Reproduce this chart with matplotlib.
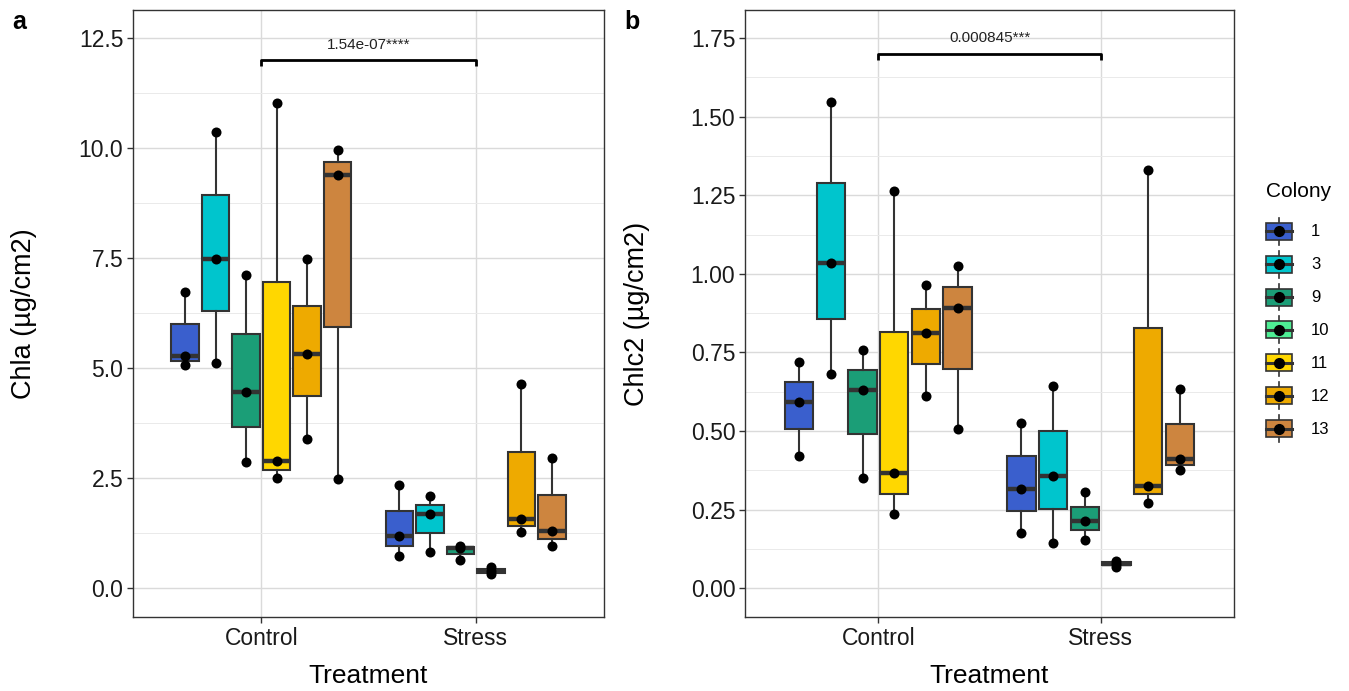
import numpy as np
import matplotlib
matplotlib.use("Agg")
import matplotlib.pyplot as plt
from matplotlib.patches import Rectangle
from matplotlib.lines import Line2D
from matplotlib.legend_handler import HandlerBase
from matplotlib.ticker import MultipleLocator, FormatStrFormatter

plt.rcParams['font.family'] = ['Liberation Sans', 'DejaVu Sans']

# --- data ---
treatments = ["Control", "Stress"]
colonies = ["1", "3", "9", "10", "11", "12", "13"]
colony_colors = ["#3A5FCD", "#00C5CD", "#1B9E77", "#4EEE94", "#FFD700", "#EEAA00", "#CD853F"]

control_colonies = ["1", "3", "9", "11", "12", "13"]
stress_colonies = ["1", "3", "9", "10", "12", "13"]

chla_control = [[6.72, 5.27, 5.07], [10.37, 7.48, 5.12], [7.11, 4.45, 2.87],
                [11.03, 2.89, 2.49], [7.49, 5.33, 3.38], [9.95, 9.40, 2.48]]
chla_stress = [[2.33, 1.18, 0.73], [2.08, 1.69, 0.82], [0.96, 0.90, 0.63],
               [0.47, 0.39, 0.31], [4.64, 1.56, 1.27], [2.95, 1.29, 0.95]]
chlc2_control = [[0.720, 0.593, 0.420], [1.547, 1.033, 0.683], [0.757, 0.632, 0.352],
                 [1.263, 0.368, 0.235], [0.964, 0.813, 0.611], [1.025, 0.890, 0.507]]
chlc2_stress = [[0.525, 0.315, 0.175], [0.643, 0.357, 0.145], [0.306, 0.214, 0.155],
                [0.088, 0.078, 0.068], [1.330, 0.326, 0.271], [0.634, 0.410, 0.375]]

p_labels = ["1.54e-07****", "0.000845***"]
bracket_heights = [12.0, 1.70]

EDGE = "#333333"
SLOT = 0.1425


def draw_panel(ax, groups, ylabel, ylim, step, fmt, bracket_y, drop, p_label, label_x):
    for gi, (cols, vals) in enumerate(groups):
        offsets = (np.arange(len(cols)) - (len(cols) - 1) / 2) * SLOT
        for col, v, off in zip(cols, vals, offsets):
            pos = gi + 1 + off
            color = colony_colors[colonies.index(col)]
            ax.boxplot([v], positions=[pos], widths=SLOT * 0.9, patch_artist=True,
                       showcaps=False, showfliers=False, whis=1.5, manage_ticks=False,
                       boxprops=dict(facecolor=color, edgecolor=EDGE, linewidth=1.5),
                       medianprops=dict(color=EDGE, linewidth=3.2, solid_capstyle="butt"),
                       whiskerprops=dict(color=EDGE, linewidth=1.5), zorder=2)
            ax.scatter([pos] * len(v), v, s=52, color="black", zorder=3, linewidths=0)

    # significance bracket
    ax.plot([1, 1, 2, 2], [bracket_y - drop, bracket_y, bracket_y, bracket_y - drop],
            color="black", lw=2, solid_capstyle="butt", zorder=4)
    ax.text(1.5, bracket_y + drop * 1.4, p_label, ha="center", va="bottom", fontsize=11,
            color="#222222")

    ax.set_xlim(0.4, 2.6)
    ax.set_ylim(*ylim)
    ax.set_xticks([1, 2])
    ax.set_xticklabels(treatments)
    ax.yaxis.set_major_locator(MultipleLocator(step))
    ax.yaxis.set_minor_locator(MultipleLocator(step / 2))
    ax.yaxis.set_major_formatter(FormatStrFormatter(fmt))
    ax.tick_params(axis="both", which="major", labelsize=16.5, length=4, width=1,
                   color=EDGE, pad=3, labelcolor="#1a1a1a")
    ax.tick_params(axis="y", which="minor", length=0)
    ax.grid(True, which="major", color="#DADADA", lw=1.0, zorder=0)
    ax.grid(True, which="minor", axis="y", color="#EAEAEA", lw=0.7, zorder=0)
    ax.set_axisbelow(True)
    for s in ax.spines.values():
        s.set_color(EDGE)
        s.set_linewidth(1.0)
    ax.set_xlabel("Treatment", fontsize=19)
    ax.set_ylabel(ylabel, fontsize=19.5)
    ax.xaxis.set_label_coords(0.5, -0.078)
    ax.xaxis.label.set_va("top")
    ax.yaxis.set_label_coords(label_x, 0.5)


class BoxHandler(HandlerBase):
    def create_artists(self, legend, orig_handle, xdescent, ydescent, width, height,
                       fontsize, trans):
        x0, y0 = -xdescent, -ydescent
        cx, cy = x0 + width / 2, y0 + height / 2
        bh = height * 0.63
        whisk = Line2D([cx, cx], [y0, y0 + height], color=EDGE, lw=1.2, transform=trans)
        box = Rectangle((x0, cy - bh / 2), width, bh, facecolor=orig_handle.get_facecolor(),
                        edgecolor=EDGE, lw=1.2, transform=trans)
        med = Line2D([x0, x0 + width], [cy, cy], color=EDGE, lw=2.2, transform=trans)
        dot = Line2D([cx], [cy], marker="o", markersize=7, color="black", lw=0,
                     transform=trans)
        return [whisk, box, med, dot]


fig = plt.figure(figsize=(13.49, 6.91), dpi=100)
W, H = 1349, 691
ax_a = fig.add_axes([133 / W, 74 / H, 471 / W, 607 / H])
ax_b = fig.add_axes([745 / W, 74 / H, 489 / W, 607 / H])

draw_panel(ax_a, [(control_colonies, chla_control), (stress_colonies, chla_stress)],
           "Chla (µg/cm2)", (-0.66, 13.14), 2.5, "%.1f", bracket_heights[0], 0.14,
           p_labels[0], -0.203)
draw_panel(ax_b, [(control_colonies, chlc2_control), (stress_colonies, chlc2_stress)],
           "Chlc2 (µg/cm2)", (-0.091, 1.839), 0.25, "%.2f", bracket_heights[1], 0.019,
           p_labels[1], -0.195)

fig.text(12 / W, 1 - 22 / H, "a", fontsize=18, fontweight="bold", va="center")
fig.text(624 / W, 1 - 22 / H, "b", fontsize=18, fontweight="bold", va="center")

handles = [Rectangle((0, 0), 1, 1, facecolor=c) for c in colony_colors]
leg = fig.legend(handles, colonies, handler_map={Rectangle: BoxHandler()},
                 title="Colony", loc="upper left", bbox_to_anchor=(1266 / W, 1 - 182 / H),
                 frameon=False, fontsize=12, title_fontsize=15, handlelength=1.56,
                 handleheight=2.11, labelspacing=0.36, handletextpad=1.15,
                 borderpad=0, borderaxespad=0, alignment="left")
leg._legend_box.sep = 12

fig.savefig("out.png", dpi=100)
